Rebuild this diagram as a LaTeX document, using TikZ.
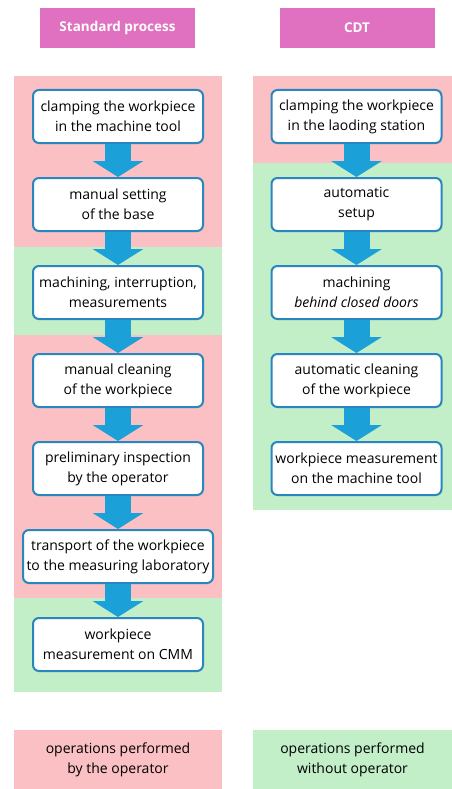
\documentclass[tikz,border=0pt]{standalone}
\usepackage{fontspec}
\setmainfont{Open Sans}
\usetikzlibrary{arrows.meta, positioning}
\definecolor{OperatorPink}{RGB}{250,192,195}
\definecolor{AutoGreen}{RGB}{194,238,200}
\definecolor{HeaderMagenta}{RGB}{224,112,192}
\definecolor{StepBlue}{RGB}{42,134,190}
\definecolor{FlowBlue}{RGB}{27,160,216}
\tikzset{
  stepbox/.style={draw=StepBlue, line width=2pt, rounded corners=6pt, fill=white, minimum width=170pt, minimum height=53pt, inner sep=1pt, align=center, font=\fontsize{14}{20}\selectfont},
  flow/.style={FlowBlue, line width=26pt, -{Triangle[width=50pt,length=16pt]}},
  header/.style={fill=HeaderMagenta, minimum width=155pt, minimum height=40pt, text=white, font=\fontsize{13.5}{15}\selectfont\bfseries},
  legend/.style={minimum height=59pt, inner sep=0pt, align=center, font=\fontsize{14}{20}\selectfont}
}
\begin{document}
\begin{tikzpicture}[x=1pt, y=-1pt]
    \useasboundingbox (0,0) rectangle (452,789);
    % background bands
    \fill[OperatorPink] (14,76) rectangle (222,247);
    \fill[AutoGreen] (14,247) rectangle (222,335);
    \fill[OperatorPink] (14,335) rectangle (222,598);
    \fill[AutoGreen] (14,598) rectangle (222,692);
    \fill[OperatorPink] (253,76) rectangle (452,163);
    \fill[AutoGreen] (253,163) rectangle (452,510);

    \node[header] (std) at (117.5,28) {Standard process};
    \node[header] (cdt) at (357,28) {CDT};

    % standard process
    \node[stepbox] (clampA) at (118,116.5) {clamping the workpiece\\in the machine tool};
    \node[stepbox, below=33pt of clampA] (setting) {manual setting\\of the base};
    \node[stepbox, below=33pt of setting] (machA) {machining, interruption,\\measurements};
    \node[stepbox, below=33pt of machA] (cleanA) {manual cleaning\\of the workpiece};
    \node[stepbox, below=33pt of cleanA] (inspect) {preliminary inspection\\by the operator};
    \node[stepbox, minimum width=190pt, below=33pt of inspect] (transport) {transport of the workpiece\\to the measuring laboratory};
    \node[stepbox, below=33pt of transport] (cmm) {workpiece\\measurement on CMM};

    % CDT
    \node[stepbox] (clampB) at (356.5,116.5) {clamping the workpiece\\in the laoding station};
    \node[stepbox, below=33pt of clampB] (setup) {automatic\\setup};
    \node[stepbox, below=33pt of setup] (machB) {machining\\\textit{behind closed doors}};
    \node[stepbox, below=33pt of machB] (cleanB) {automatic cleaning\\of the workpiece};
    \node[stepbox, below=33pt of cleanB] (onmachine) {workpiece measurement\\on the machine tool};

    \draw[flow] (clampA.south) -- (setting.north);
    \draw[flow] (setting.south) -- (machA.north);
    \draw[flow] (machA.south) -- (cleanA.north);
    \draw[flow] (cleanA.south) -- (inspect.north);
    \draw[flow] (inspect.south) -- (transport.north);
    \draw[flow] (transport.south) -- (cmm.north);

    \draw[flow] (clampB.south) -- (setup.north);
    \draw[flow] (setup.south) -- (machB.north);
    \draw[flow] (machB.south) -- (cleanB.north);
    \draw[flow] (cleanB.south) -- (onmachine.north);

    % legend
    \node[legend, fill=OperatorPink, minimum width=208pt] (manual) at (118,759.5) {operations performed\\by the operator};
    \node[legend, fill=AutoGreen, minimum width=199pt] (auto) at (352.5,759.5) {operations performed\\without operator};
  \end{tikzpicture}
\end{document}
